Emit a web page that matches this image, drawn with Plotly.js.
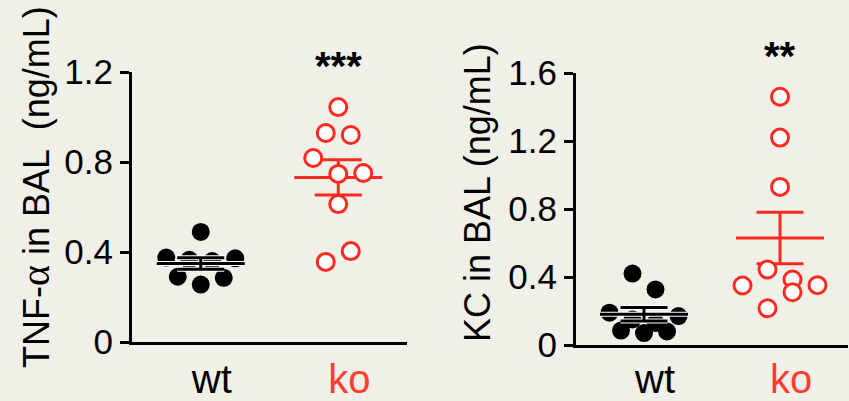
<!DOCTYPE html>
<html><head><meta charset="utf-8">
<script src="https://cdn.plot.ly/plotly-3.0.1.min.js"></script>
<style>html,body{margin:0;padding:0;background:#f0efe8;}#chart{width:849px;height:401px;}</style>
</head><body><div id="chart"></div>
<script>
// ---- data ----
const categories = ['wt', 'ko'];
const tnfWt = [0.489, 0.375, 0.365, 0.36, 0.372, 0.29, 0.255, 0.285];
const tnfKo = [1.044, 0.929, 0.920, 0.818, 0.747, 0.751, 0.613, 0.356, 0.404];
const kcWt = [0.42, 0.327, 0.19, 0.15, 0.13, 0.17, 0.085, 0.07, 0.08];
const kcKo = [1.46, 1.22, 0.93, 0.35, 0.444, 0.385, 0.352, 0.216, 0.31];
const tnfTicks = [0, 0.4, 0.8, 1.2];
const kcTicks = [0, 0.4, 0.8, 1.2, 1.6];
const tnfSig = '***';
const kcSig = '**';
const tnfSigLevel = 1.225;
const kcSigLevel = 1.70;

// ---- layout constants ----
const W = 849, H = 401;
const BG = '#f0efe8';
const RED = '#ff2a1f';
const RED_LABEL = '#ff3d2e';
const FONT = 'Liberation Sans, Arial, Helvetica, sans-serif';
const P1 = {x0: 132, x1: 407, y0: 72, y1: 342, ymax: 1.2};
const P2 = {x0: 576, x1: 848, y0: 73, y1: 345, ymax: 1.6};
const XR = [-0.5, 1.5];

function pxPerUnit(p) {
  return {x: (p.x1 - p.x0) / (XR[1] - XR[0]), y: (p.y1 - p.y0) / p.ymax};
}

// row-based scatter-dot placement (like a column scatter plot)
function swarm(vals, center, p, spacingPx, thrPx) {
  const s = pxPerUnit(p);
  const idx = vals.map((v, i) => i).sort((a, b) => vals[b] - vals[a]);
  const rows = [];
  let cur = null, anchor = null;
  idx.forEach(i => {
    if (cur && (anchor - vals[i]) * s.y <= thrPx) cur.push(i);
    else { cur = [i]; anchor = vals[i]; rows.push(cur); }
  });
  const xs = new Array(vals.length);
  rows.forEach(r => {
    r.sort((a, b) => a - b);
    const n = r.length;
    r.forEach((i, k) => { xs[i] = center + (k - (n - 1) / 2) * spacingPx / s.x; });
  });
  return xs;
}

function stats(v) {
  const n = v.length;
  const m = v.reduce((a, b) => a + b, 0) / n;
  const sd = Math.sqrt(v.reduce((a, b) => a + (b - m) * (b - m), 0) / (n - 1));
  return {m: m, sem: sd / Math.sqrt(n)};
}

function errTrace(v, center, p, color, width, xa, ya) {
  const s = pxPerUnit(p);
  const st = stats(v);
  const hm = 44 / s.x, hc = 23.5 / s.x;
  return {
    type: 'scatter', mode: 'lines', xaxis: xa, yaxis: ya, hoverinfo: 'skip', showlegend: false,
    x: [center - hm, center + hm, null, center - hc, center + hc, null, center - hc, center + hc, null, center, center],
    y: [st.m, st.m, null, st.m + st.sem, st.m + st.sem, null, st.m - st.sem, st.m - st.sem, null, st.m - st.sem, st.m + st.sem],
    line: {color: color, width: width}
  };
}

function panelTraces(wt, ko, p, xa, ya) {
  const t = [];
  t.push(errTrace(ko, 1, p, RED, 3, xa, ya));
  t.push({type: 'scatter', mode: 'markers', xaxis: xa, yaxis: ya, showlegend: false,
    x: swarm(ko, 1, p, 25, 17), y: ko,
    marker: {size: 17, color: '#ffffff', line: {color: RED, width: 3}}});
  t.push({type: 'scatter', mode: 'markers', xaxis: xa, yaxis: ya, showlegend: false,
    x: swarm(wt, 0, p, 23, 17), y: wt,
    marker: {size: 18, color: '#000000', line: {width: 0}}});
  t.push(errTrace(wt, 0, p, '#ffffff', 5, xa, ya));
  t.push(errTrace(wt, 0, p, '#000000', 3, xa, ya));
  return t;
}

const traces = [].concat(
  panelTraces(tnfWt, tnfKo, P1, 'x', 'y'),
  panelTraces(kcWt, kcKo, P2, 'x2', 'y2')
);

function xAxis(p, anchor, standoff) {
  return {
    domain: [p.x0 / W, p.x1 / W], range: XR, anchor: anchor,
    tickvals: [0, 1],
    ticktext: [categories[0], '<span style="color:' + RED_LABEL + '">' + categories[1] + '</span>'],
    ticks: '', showline: true, linewidth: 3, linecolor: '#000',
    showgrid: false, zeroline: false, fixedrange: true,
    tickfont: {family: FONT, size: 40, color: '#000'},
    ticklabelshift: 11, ticklabelstandoff: standoff
  };
}
function yAxis(p, ticks, anchor) {
  return {
    domain: [1 - p.y1 / H, 1 - p.y0 / H], range: [0, p.ymax], anchor: anchor,
    tickvals: ticks, ticktext: ticks.map(v => v === 0 ? '0' : v.toFixed(1)),
    ticks: 'outside', ticklen: 9, tickwidth: 3, tickcolor: '#000',
    showline: true, linewidth: 3, linecolor: '#000',
    showgrid: false, zeroline: false, fixedrange: true,
    tickfont: {family: FONT, size: 35, color: '#000'}
  };
}

const layout = {
  width: W, height: H,
  margin: {l: 0, r: 0, t: 0, b: 0},
  paper_bgcolor: BG, plot_bgcolor: BG,
  showlegend: false,
  xaxis: xAxis(P1, 'y', 0), yaxis: yAxis(P1, tnfTicks, 'x'),
  xaxis2: xAxis(P2, 'y2', -3), yaxis2: yAxis(P2, kcTicks, 'x2'),
  annotations: [
    {xref: 'paper', yref: 'paper', x: 36 / W, y: 1 - 187 / H, xanchor: 'center', yanchor: 'middle',
     textangle: -90, showarrow: false,
     text: 'TNF-<span style="font-family:Liberation Serif;font-size:40px">α</span> in BAL  (ng/mL)',
     font: {family: FONT, size: 36, color: '#000'}},
    {xref: 'paper', yref: 'paper', x: 477 / W, y: 1 - 193 / H, xanchor: 'center', yanchor: 'middle',
     textangle: -90, showarrow: false,
     text: 'KC in BAL (ng/mL)',
     font: {family: FONT, size: 36, color: '#000'}},
    {xref: 'x', yref: 'y domain', x: 1, y: tnfSigLevel / P1.ymax, xanchor: 'center', yanchor: 'middle', showarrow: false,
     text: '<b>' + tnfSig + '</b>', font: {family: FONT, size: 40, color: '#000'}},
    {xref: 'x2', yref: 'y2 domain', x: 1, y: kcSigLevel / P2.ymax, xanchor: 'center', yanchor: 'middle', showarrow: false,
     text: '<b>' + kcSig + '</b>', font: {family: FONT, size: 40, color: '#000'}}
  ]
};

Plotly.newPlot('chart', traces, layout, {staticPlot: true, displayModeBar: false});
</script>
</body></html>
